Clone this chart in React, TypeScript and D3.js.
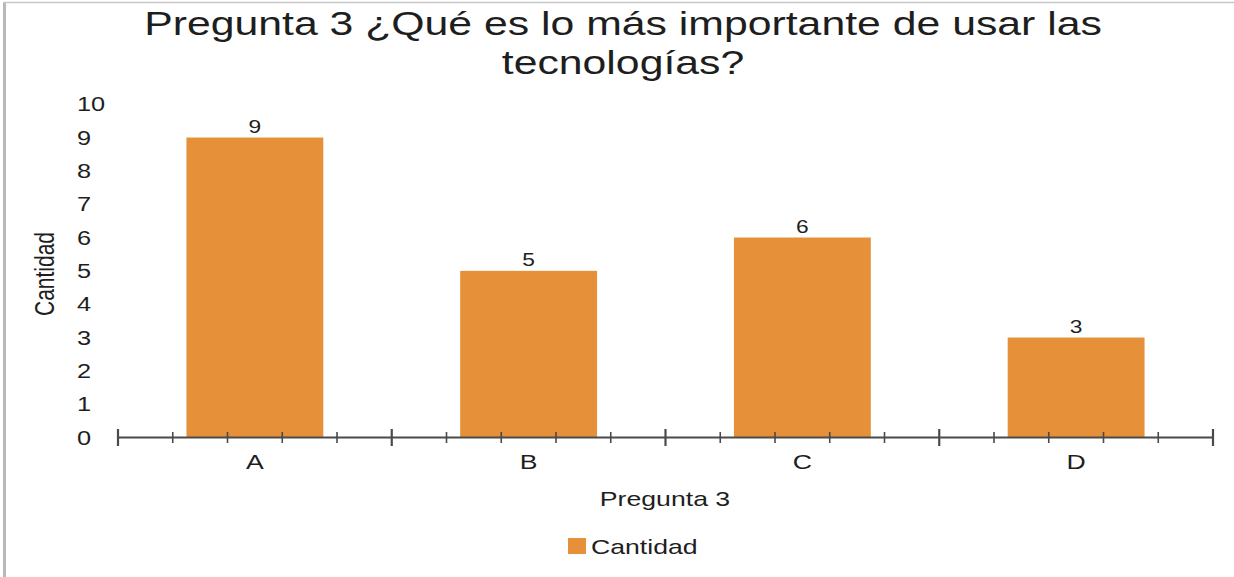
import React from "react";
import * as d3 from "d3";

const categories = ["A", "B", "C", "D"];
const values = [9, 5, 6, 3];
const yTicks = [0, 1, 2, 3, 4, 5, 6, 7, 8, 9, 10];
const titleLines = ["Pregunta 3 ¿Qué es lo más importante de usar las", "tecnologías?"];
const xTitle = "Pregunta 3";
const yTitle = "Cantidad";
const seriesName = "Cantidad";

const W = 1234;
const H = 577;
const SX = 1.3;
const FONT = "'Liberation Sans', Arial, sans-serif";
const BAR = "#E69139";
const TXT = "#1e1e1e";

export default function App() {
  const x = d3.scaleBand<string>().domain(categories).range([118, 1213]).padding(0);
  const y = d3.scaleLinear().domain([0, 10]).range([437.5, 104.2]);
  const bw = x.bandwidth();
  const y0 = y(0);

  const majors = [...categories.map((c) => x(c) as number), x.range()[1]];
  const minors: number[] = [];
  categories.forEach((c) => {
    for (let k = 1; k <= 4; k++) minors.push((x(c) as number) + (k * bw) / 5);
  });

  const T = (px: number, py: number, extra = "") => `translate(${px},${py}) scale(${SX},1)${extra}`;

  return (
    <svg width={W} height={H} style={{ position: "absolute", left: 0, top: 0, background: "#fff" }} fontFamily={FONT}>
      <rect x={0} y={0} width={W} height={H} fill="#fff" />
      {/* border */}
      <line x1={4.5} x2={4.5} y1={2} y2={H} stroke="#b8b8b8" strokeWidth={3} />
      <line x1={3} x2={W} y1={2.5} y2={2.5} stroke="#c8c8c8" strokeWidth={1.5} />

      {/* title */}
      {titleLines.map((t, i) => (
        <text key={t} transform={T(623, 35 + i * 39)} textAnchor="middle" fontSize={32.9} fill={TXT}>
          {t}
        </text>
      ))}

      {/* y tick labels */}
      {yTicks.map((v) => (
        <text key={v} transform={T(77, y(v) + 7)} textAnchor="start" fontSize={19.5} fill={TXT}>
          {v}
        </text>
      ))}

      {/* y title */}
      <text transform={T(54, 274, " rotate(-90)")} textAnchor="middle" fontSize={21} fill={TXT}>
        {yTitle}
      </text>

      {/* bars */}
      {categories.map((c, i) => (
        <rect
          key={c}
          x={(x(c) as number) + bw * 0.25}
          y={y(values[i])}
          width={bw * 0.5}
          height={y0 - y(values[i])}
          fill={BAR}
        />
      ))}

      {/* data labels */}
      {categories.map((c, i) => (
        <text key={c} transform={T((x(c) as number) + bw / 2, y(values[i]) - 5)} textAnchor="middle" fontSize={17.5} fill={TXT}>
          {values[i]}
        </text>
      ))}

      {/* x axis */}
      <line x1={x.range()[0]} x2={x.range()[1]} y1={y0} y2={y0} stroke="#4a4a4a" strokeWidth={2} />
      {majors.map((m, i) => (
        <line key={"M" + i} x1={m} x2={m} y1={y0 - 8.5} y2={y0 + 8.5} stroke="#4a4a4a" strokeWidth={2.2} />
      ))}
      {minors.map((m, i) => (
        <line key={"m" + i} x1={m} x2={m} y1={y0 - 5.5} y2={y0 + 5.5} stroke="#4a4a4a" strokeWidth={1.6} />
      ))}

      {/* category labels */}
      {categories.map((c) => (
        <text key={c} transform={T((x(c) as number) + bw / 2, 469)} textAnchor="middle" fontSize={20.5} fill={TXT}>
          {c}
        </text>
      ))}

      {/* x title */}
      <text transform={T(665, 506)} textAnchor="middle" fontSize={20.5} fill={TXT}>
        {xTitle}
      </text>

      {/* legend */}
      <rect x={568} y={538} width={18} height={16} fill={BAR} />
      <text transform={T(591, 554)} textAnchor="start" fontSize={20.5} fill={TXT}>
        {seriesName}
      </text>
    </svg>
  );
}
